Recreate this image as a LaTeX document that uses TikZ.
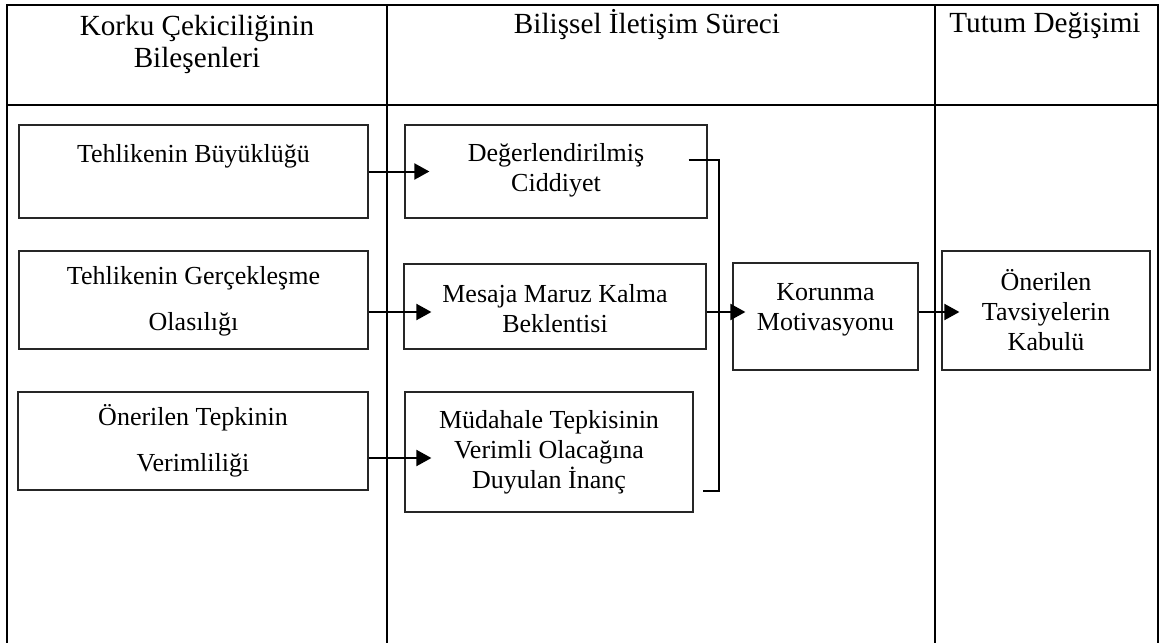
\documentclass[tikz,border=0pt]{standalone}
\usepackage{fontspec}
\setmainfont{Liberation Serif}
\usetikzlibrary{calc,arrows.meta}
\begin{document}
\begin{tikzpicture}[x=0.5pt,y=-0.5pt,
  tbl/.style={line width=1.3pt},
  box/.style 2 args={draw=black!85, line width=0.6pt, inner sep=0pt,
    minimum width=#1*0.5pt, minimum height=#2*0.5pt},
  txt/.style={align=center, font=\fontsize{13}{15}\selectfont, inner sep=0pt},
  head/.style={align=center, font=\fontsize{14.6}{16}\selectfont, inner sep=0pt},
  conn/.style={line width=1pt},
  arr/.style={conn, -{Triangle[length=7.5pt,width=8pt]}}]

\useasboundingbox (0,0) rectangle (1164,643);

% table frame (open at the bottom)
\draw[tbl] (7,643) -- (7,5) -- (1158,5) -- (1158,643);
\draw[tbl] (7,105) -- (1158,105);
\draw[tbl] (387,5) -- (387,643);
\draw[tbl] (935,5) -- (935,643);

% column headings
\node[head] (H1) at (197,44) {Korku Çekiciliğinin\\Bileşenleri};
\node[head] (H2) at (647,25) {Bilişsel İletişim Süreci};
\node[head] (H3) at (1045,26) {Tutum Değişimi};

% components of the fear appeal
\node[box={349}{93}] (L1) at (193.5,171.5) {};
\node[txt] (L1t) at (193.5,156) {Tehlikenin Büyüklüğü};
\node[box={349}{98}] (L2) at (193.5,300) {};
\node[txt] (L2t) at (193.5,301) {Tehlikenin Gerçekleşme\\[8pt]Olasılığı};
\node[box={350}{98}] (L3) at (193,441) {};
\node[txt] (L3t) at (193,441) {Önerilen Tepkinin\\[8pt]Verimliliği};

% cognitive process
\node[box={302}{93}] (M1) at (556,171.5) {};
\node[txt] (M1t) at (556,170.5) {Değerlendirilmiş\\Ciddiyet};
\node[box={302}{85}] (M2) at (555,306.5) {};
\node[txt] (M2t) at (555,309) {Mesaja Maruz Kalma\\Beklentisi};
\node[box={288}{120}] (M3) at (549,452) {};
\node[txt] (M3t) at (549,452) {Müdahale Tepkisinin\\Verimli Olacağına\\Duyulan İnanç};

\node[box={185}{107}] (K) at (825.5,316.5) {};
\node[txt] (Kt) at (825.5,310) {Korunma\\Motivasyonu};

% attitude change
\node[box={208}{119}] (O) at (1046,310.5) {};
\node[txt] (Ot) at (1046,310) {Önerilen\\Tavsiyelerin\\Kabulü};

% connectors
\draw[arr] (L1.east) -- ($(M1.west)+(25,0)$);
\draw[arr] ($(L2.east)+(0,12)$) -- ($(M2.west)+(28,5.5)$);
\draw[arr] ($(L3.east)+(0,17)$) -- ($(M3.west)+(27,6)$);

\coordinate (bt) at (719,160);
\coordinate (bb) at (719,491);
\draw[conn] ($(M1.east)+(-19,-11.5)$) -- (bt) -- (bb) -- ($(M3.east)+(9,39)$);

\draw[arr] ($(M2.east)+(0,5.5)$) -- ($(K.west)+(13,-4.5)$);
\draw[arr] ($(K.east)+(0,-4.5)$) -- ($(O.west)+(18,1.5)$);
\end{tikzpicture}
\end{document}
